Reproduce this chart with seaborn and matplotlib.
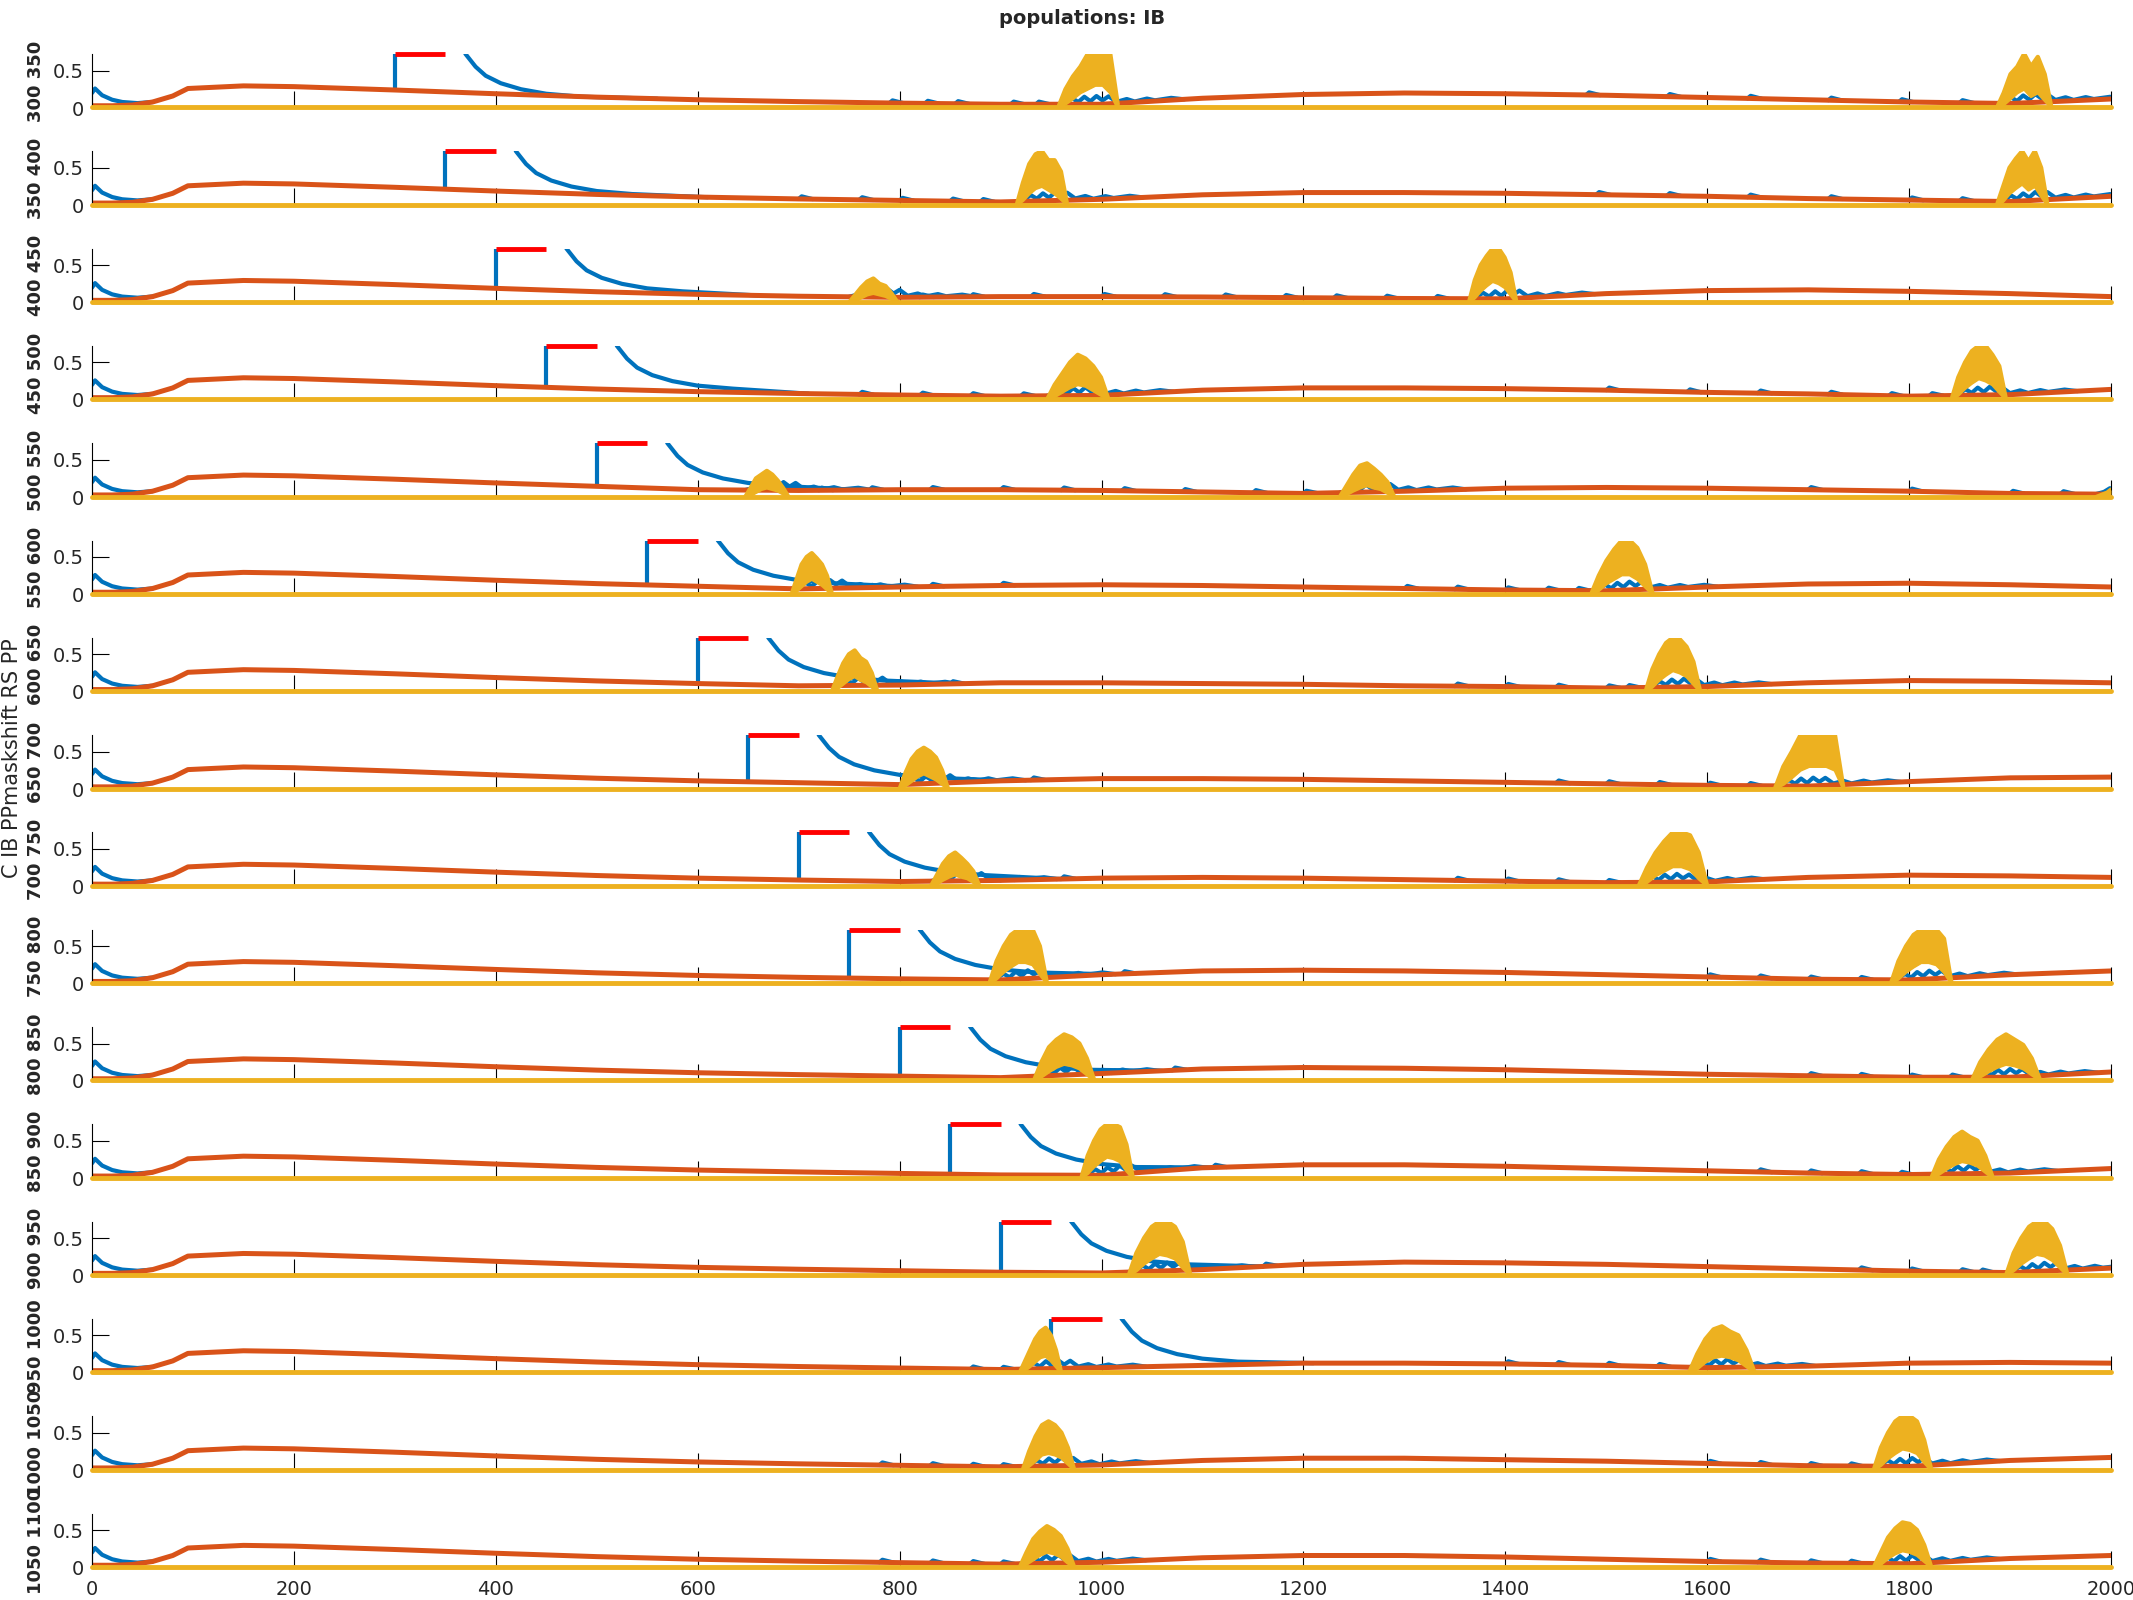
import numpy as np
import pandas as pd
import matplotlib.pyplot as plt
import seaborn as sns

sns.set_style("ticks")
plt.rcParams["font.family"] = ["DejaVu Sans"]

# matlab default colour order
c_pp = "#0072BD"
c_rs = "#D95319"
c_ib = "#EDB120"

# RS rate: shared start-up transient, then one row per panel on a 100 ms grid
head_t = [0, 20, 40, 60, 80, 95, 150]
head_rs = [0.03, 0.03, 0.04, 0.08, 0.16, 0.26, 0.295]
tail_t = list(range(200, 2001, 100))
rs_tail = [
    [.285, .24, .19, .145, .11, .085, .065, .05, .05, .13, .18, .2, .19, .17, .14, .11, .08, .06, .12],
    [.285, .24, .19, .145, .11, .085, .065, .045, .08, .14, .17, .17, .16, .14, .12, .09, .07, .05, .12],
    [.285, .24, .19, .145, .11, .085, .07, .08, .08, .075, .065, .055, .05, .12, .16, .17, .15, .12, .08],
    [.285, .24, .19, .145, .11, .085, .065, .05, .06, .13, .16, .16, .15, .13, .1, .08, .05, .07, .14],
    [.285, .24, .19, .145, .1, .09, .1, .1, .09, .07, .05, .08, .12, .13, .12, .1, .08, .05, .04],
    [.285, .24, .19, .145, .11, .075, .1, .12, .13, .12, .1, .08, .06, .05, .1, .14, .15, .13, .1],
    [.285, .24, .19, .145, .11, .08, .09, .12, .12, .11, .1, .08, .07, .05, .07, .12, .15, .14, .12],
    [.285, .24, .19, .145, .11, .085, .06, .11, .14, .14, .13, .11, .09, .07, .05, .04, .1, .15, .16],
    [.285, .24, .19, .145, .11, .085, .065, .08, .11, .12, .11, .09, .07, .05, .06, .12, .15, .14, .12],
    [.285, .24, .19, .145, .11, .085, .065, .05, .12, .17, .18, .17, .15, .12, .09, .06, .05, .12, .17],
    [.285, .24, .19, .145, .11, .085, .065, .045, .1, .16, .18, .17, .15, .12, .09, .07, .05, .05, .12],
    [.285, .24, .19, .145, .11, .085, .065, .045, .04, .14, .18, .18, .16, .13, .1, .07, .05, .07, .13],
    [.285, .24, .19, .145, .11, .085, .065, .045, .035, .08, .15, .18, .17, .15, .12, .09, .06, .04, .1],
    [.285, .24, .19, .145, .11, .085, .065, .045, .07, .1, .13, .13, .12, .1, .07, .09, .13, .14, .13],
    [.285, .24, .19, .145, .11, .085, .065, .045, .07, .13, .16, .16, .14, .12, .09, .06, .05, .13, .17],
    [.285, .24, .19, .145, .11, .085, .065, .045, .07, .13, .16, .16, .14, .11, .08, .06, .05, .12, .16],
]

# PP start-up transient
pp_head_t = [0, 3, 10, 20, 30, 45, 60]
pp_head = [0.2, 0.26, 0.17, 0.11, 0.08, 0.065, 0.08]

# mask onsets (red bar = 50 ms mask), panels 15/16 have none
stim_on = [300, 350, 400, 450, 500, 550, 600, 650, 700, 750, 800, 850, 900, 950]
mask_len = 50
panel_labels = ["300 350", "350 400", "400 450", "450 500", "500 550", "550 600",
                "600 650", "650 700", "700 750", "750 800", "800 850", "850 900",
                "900 950", "950 1000", "1000 1050", "1050 1100"]

# PP decay after the mask (ms after onset)
decay_dt = [65, 70, 80, 90, 105, 125, 150, 185]
decay_pp = [0.9, 0.72, 0.55, 0.43, 0.33, 0.25, 0.19, 0.15]
decay_merge = 260

# PP ripples riding on RS during and after an IB burst
osc_dt = [0, 8, 14, 20, 26, 32, 38, 44, 50, 58, 68, 76, 88, 96, 112, 125]
osc_pp = [0.0, 0.03, 0.08, 0.03, 0.1, 0.04, 0.11, 0.05, 0.1, 0.02, 0.05, 0.01, 0.04, 0.01, 0.03, 0.0]

# small isolated PP spikes (times per panel) and their shape
pp_bumps = [
    [790, 825, 855, 910, 935, 1480, 1560, 1640, 1720, 1790, 1850],
    [700, 760, 800, 850, 880, 1490, 1560, 1640, 1720, 1800, 1850],
    [820, 870, 930, 1000, 1060, 1120, 1180, 1230, 1280, 1330],
    [760, 820, 870, 920, 1500, 1580, 1650, 1720, 1780, 1820],
    [720, 770, 830, 900, 960, 1020, 1080, 1150, 1200, 1700, 1800, 1900, 1950],
    [770, 830, 900, 1300, 1350, 1400, 1440, 1470],
    [800, 850, 1350, 1400, 1450, 1500, 1520],
    [870, 930, 1450, 1500, 1550, 1600, 1640],
    [900, 960, 1350, 1400, 1450, 1500],
    [960, 1020, 1600, 1650, 1700, 1750],
    [1010, 1070, 1700, 1750, 1800, 1840],
    [1050, 1110, 1650, 1700, 1750, 1790],
    [1100, 1160, 1750, 1800, 1850, 1870],
    [870, 900, 1400, 1450, 1500, 1550],
    [780, 830, 870, 900, 1600, 1650, 1700, 1740],
    [780, 830, 870, 900, 1600, 1650, 1700, 1740],
]
bump_dt = [0, 3, 14]
bump_dy = [0.0, 0.035, 0.0]

# IB bursts: start, end, upper/lower envelope at 9 knots
burst_on = [[957, 1887], [916, 1887], [750, 1364], [946, 1842], [647, 1236, 1985],
            [693, 1485], [733, 1539], [800, 1667], [831, 1532], [889, 1782],
            [933, 1862], [980, 1822], [1027, 1896], [919, 1582], [922, 1765], [919, 1765]]
burst_off = [[1016, 1941], [966, 1937], [798, 1411], [1007, 1896], [690, 1290, 2000],
             [733, 1546], [778, 1593], [848, 1735], [879, 1600], [946, 1842],
             [993, 1930], [1031, 1883], [1088, 1957], [960, 1647], [973, 1822], [973, 1822]]
ib_up = [
    [[0, .25, .42, .55, .72, .72, .72, .72, .05], [0, .2, .45, .55, .72, .55, .68, .45, 0]],
    [[0, .3, .55, .68, .72, .6, .6, .45, 0], [0, .25, .5, .62, .72, .58, .72, .5, 0]],
    [[0, .1, .2, .28, .32, .25, .22, .12, 0], [0, .3, .5, .62, .72, .72, .6, .4, 0]],
    [[0, .2, .35, .5, .6, .55, .45, .3, 0], [0, .3, .5, .65, .72, .72, .6, .45, 0]],
    [[0, .12, .25, .3, .35, .3, .22, .12, 0], [0, .15, .3, .42, .45, .38, .3, .2, 0],
     [0, .01, .02, .03, .04, .05, .06, .08, .1]],
    [[0, .2, .4, .5, .55, .48, .4, .25, 0], [0, .25, .45, .6, .72, .72, .62, .4, 0]],
    [[0, .2, .38, .5, .55, .45, .4, .25, 0], [0, .3, .5, .65, .72, .7, .6, .4, 0]],
    [[0, .22, .4, .5, .55, .5, .42, .25, 0], [0, .3, .5, .72, .72, .72, .72, .72, 0]],
    [[0, .15, .3, .4, .45, .38, .3, .2, 0], [0, .25, .45, .6, .72, .72, .68, .45, 0]],
    [[0, .3, .5, .65, .72, .72, .72, .5, 0], [0, .3, .5, .65, .72, .72, .72, .6, 0]],
    [[0, .25, .45, .55, .62, .58, .5, .3, 0], [0, .25, .42, .55, .62, .55, .48, .3, 0]],
    [[0, .3, .5, .65, .72, .72, .68, .45, 0], [0, .25, .42, .55, .62, .55, .5, .3, 0]],
    [[0, .3, .5, .65, .72, .72, .65, .45, 0], [0, .3, .5, .65, .72, .72, .62, .4, 0]],
    [[0, .15, .3, .45, .55, .6, .5, .3, 0], [0, .25, .45, .58, .62, .55, .5, .3, 0]],
    [[0, .25, .45, .6, .65, .6, .5, .3, 0], [0, .3, .5, .65, .72, .72, .65, .4, 0]],
    [[0, .2, .38, .48, .55, .5, .42, .25, 0], [0, .2, .4, .52, .6, .58, .5, .3, 0]],
]
ib_low = [
    [[0, .05, .12, .2, .25, .3, .3, .2, 0], [0, .04, .12, .2, .25, .15, .2, .1, 0]],
    [[0, .06, .15, .22, .25, .2, .15, .08, 0], [0, .05, .15, .22, .28, .2, .25, .12, 0]],
    [[0, .02, .06, .1, .12, .1, .08, .04, 0], [0, .06, .15, .22, .28, .25, .2, .1, 0]],
    [[0, .04, .1, .16, .2, .18, .12, .06, 0], [0, .06, .15, .22, .28, .25, .2, .1, 0]],
    [[0, .02, .06, .1, .12, .1, .08, .04, 0], [0, .03, .08, .12, .15, .12, .1, .05, 0],
     [0, 0, 0, 0, 0, 0, 0, 0, 0]],
    [[0, .04, .1, .16, .2, .16, .12, .06, 0], [0, .05, .14, .2, .26, .26, .2, .1, 0]],
    [[0, .04, .1, .16, .2, .15, .12, .06, 0], [0, .06, .15, .22, .28, .25, .2, .1, 0]],
    [[0, .04, .1, .16, .2, .16, .12, .06, 0], [0, .06, .15, .25, .3, .3, .3, .25, 0]],
    [[0, .03, .08, .12, .15, .12, .1, .05, 0], [0, .05, .14, .2, .26, .26, .22, .1, 0]],
    [[0, .06, .15, .22, .28, .28, .25, .12, 0], [0, .06, .15, .22, .28, .28, .25, .15, 0]],
    [[0, .05, .12, .18, .22, .2, .16, .08, 0], [0, .05, .12, .18, .22, .2, .16, .08, 0]],
    [[0, .06, .15, .22, .28, .26, .22, .1, 0], [0, .05, .12, .18, .22, .2, .16, .08, 0]],
    [[0, .06, .15, .22, .28, .26, .22, .1, 0], [0, .06, .15, .22, .28, .26, .2, .1, 0]],
    [[0, .03, .08, .14, .2, .22, .16, .08, 0], [0, .05, .14, .2, .22, .2, .16, .08, 0]],
    [[0, .05, .12, .2, .22, .2, .16, .08, 0], [0, .06, .15, .22, .28, .26, .22, .1, 0]],
    [[0, .04, .1, .16, .2, .18, .14, .06, 0], [0, .04, .12, .18, .22, .2, .16, .08, 0]],
]

ytop = 0.72
W, H = 2133, 1600
fig = plt.figure(figsize=(W / 100, H / 100), dpi=100)

for k in range(16):
    base = 108 + k * 97.3
    ax = fig.add_axes([92 / W, 1 - base / H, 2019 / W, 54 / H])
    rs_t = head_t + tail_t
    rs_y = head_rs + rs_tail[k]

    # PP pieces
    segs = [pd.DataFrame({"t": pp_head_t, "r": pp_head, "seg": 0})]
    if k < len(stim_on):
        s = stim_on[k]
        segs.append(pd.DataFrame({"t": [s, s], "r": [np.interp(s, rs_t, rs_y), 1.0], "seg": 1}))
        dt = [s + d for d in decay_dt] + [s + decay_merge]
        dr = decay_pp + [np.interp(s + decay_merge, rs_t, rs_y)]
        segs.append(pd.DataFrame({"t": dt, "r": dr, "seg": 2}))
    nseg = 3
    for b in burst_on[k]:
        bt = [b + d for d in osc_dt]
        br = [np.interp(t, rs_t, rs_y) + v for t, v in zip(bt, osc_pp)]
        segs.append(pd.DataFrame({"t": bt, "r": br, "seg": nseg}))
        nseg += 1
    for b in pp_bumps[k]:
        bt = [b + d for d in bump_dt]
        br = [np.interp(t, rs_t, rs_y) + v for t, v in zip(bt, bump_dy)]
        segs.append(pd.DataFrame({"t": bt, "r": br, "seg": nseg}))
        nseg += 1
    pp = pd.concat(segs, ignore_index=True)
    sns.lineplot(data=pp, x="t", y="r", units="seg", estimator=None, sort=False,
                 color=c_pp, lw=3.0, ax=ax)

    # RS
    sns.lineplot(x=rs_t, y=rs_y, color=c_rs, lw=3.6, ax=ax)

    # IB baseline and bursts
    sns.lineplot(x=[0, 2000], y=[0.008, 0.008], color=c_ib, lw=3.5, ax=ax)
    ax.lines[-1].set_clip_on(False)
    ax.lines[-1].set_zorder(3)
    for j in range(len(burst_on[k])):
        bt = np.linspace(burst_on[k][j], burst_off[k][j], 9)
        ax.fill_between(bt, ib_low[k][j], ib_up[k][j], color=c_ib, lw=0, zorder=3)
        ax.plot(bt, ib_up[k][j], color=c_ib, lw=3.2, zorder=3)
        ax.plot(bt, ib_low[k][j], color=c_ib, lw=2, zorder=3)

    # mask bar
    if k < len(stim_on):
        ax.plot([stim_on[k], stim_on[k] + mask_len], [ytop, ytop], color="red",
                lw=3.5, clip_on=False, solid_capstyle="butt", zorder=5)

    ax.set_xlim(0, 2000)
    ax.set_ylim(0, ytop)
    ax.set_yticks([0, 0.5])
    ax.set_yticklabels(["0", "0.5"])
    ax.set_xticks(range(0, 2001, 200))
    if k < 15:
        ax.set_xticklabels([])
    ax.set_xlabel("")
    ax.tick_params(direction="in", length=12, width=0.8, color="black",
                   labelcolor="#262626", labelsize=14)
    ax.tick_params(axis="y", pad=6)
    ax.tick_params(axis="x", pad=9)
    sns.despine(ax=ax)
    for sp in ["left", "bottom"]:
        ax.spines[sp].set_linewidth(0.8)
        ax.spines[sp].set_color("black")
    ax.set_ylabel(panel_labels[k], fontsize=13, fontweight="bold")
    ax.yaxis.set_label_coords(-0.0233, 0.5)

fig.text(12 / W, 1 - 758 / H, "C IB PPmaskshift RS PP", rotation=90,
         ha="center", va="center", fontsize=15)
fig.text(1082 / W, 1 - 19 / H, "populations: IB", ha="center", va="center",
         fontsize=14, fontweight="bold")

fig.savefig("out.png", dpi=100)
